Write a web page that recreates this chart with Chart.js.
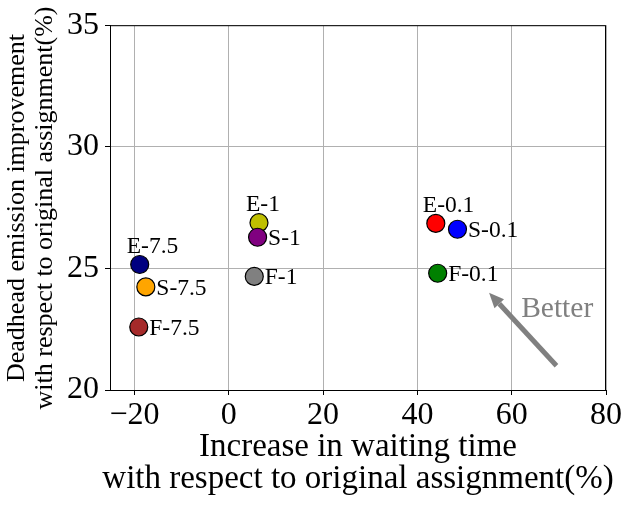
<!DOCTYPE html>
<html lang="en">
<head>
    <meta charset="UTF-8">
    <title>Waiting time vs emission</title>
    <style>
        html, body { margin: 0; padding: 0; background: #fff; }
        #wrap { width: 633px; height: 510px; }
    </style>
</head>
<body>
    <div id="wrap">
        <canvas id="myChart" width="633" height="510"></canvas>
    </div>

    <script src="https://cdn.jsdelivr.net/npm/chart.js"></script>

    <script>
        // Data
        const names = ['E-7.5', 'S-7.5', 'F-7.5', 'E-1', 'S-1', 'F-1', 'E-0.1', 'S-0.1', 'F-0.1'];
        const waitIncrease = [-18.9, -17.6, -19.1, 6.4, 6.1, 5.4, 43.9, 48.5, 44.3];
        const emissionImprove = [25.16, 24.24, 22.59, 26.88, 26.28, 24.67, 26.85, 26.61, 24.80];
        const pointColors = ['#000080', '#ffa500', '#a52a2a', '#bfbf00', '#800080', '#808080', '#ff0000', '#0000ff', '#008000'];
        // where the label sits: E labels above the marker, the others to the right
        const labelSide = ['above', 'right', 'right', 'above', 'right', 'right', 'above', 'right', 'right'];
        const xTicks = [-20, 0, 20, 40, 60, 80];
        const yTicks = [20, 25, 30, 35];
        const xTitle = ['Increase in waiting time', 'with respect to original assignment(%)'];
        const yTitle = ['Deadhead emission improvement', 'with respect to original assignment(%)'];
        // "Better" arrow (from -> to) and its text, in data units
        const arrowFrom = [69.5, 21];
        const arrowTo = [55.2, 24];
        const betterAt = [62, 23];

        const serif = "'Liberation Serif', 'Times New Roman', serif";
        const ctx = document.getElementById('myChart');

        const points = waitIncrease.map((x, i) => ({ x: x, y: emissionImprove[i] }));

        function rotText(c, txt, x, y, rot) {
            c.save();
            c.translate(x, y);
            c.rotate(rot);
            c.fillText(txt, 0, 0);
            c.restore();
        }

        // labels next to the markers plus the arrow
        const annotatePlugin = {
            id: 'annotate',
            afterDatasetsDraw(chart) {
                const c = chart.ctx;
                const xs = chart.scales.x, ys = chart.scales.y;
                const meta = chart.getDatasetMeta(0);
                c.save();
                c.font = '23.5px ' + serif;
                c.fillStyle = '#000';
                c.textBaseline = 'alphabetic';
                c.textAlign = 'left';
                meta.data.forEach((el, i) => {
                    if (labelSide[i] === 'above') {
                        c.fillText(names[i], el.x - 13, el.y - 11.5);
                    } else {
                        c.fillText(names[i], el.x + 10.5, el.y + 8);
                    }
                });

                // arrow
                const x0 = xs.getPixelForValue(arrowFrom[0]), y0 = ys.getPixelForValue(arrowFrom[1]);
                const x1 = xs.getPixelForValue(arrowTo[0]), y1 = ys.getPixelForValue(arrowTo[1]);
                const ang = Math.atan2(y1 - y0, x1 - x0);
                const headLen = 15, headW = 6.5;
                const bx = x1 - headLen * Math.cos(ang), by = y1 - headLen * Math.sin(ang);
                c.strokeStyle = '#808080';
                c.fillStyle = '#808080';
                c.lineWidth = 5;
                c.lineCap = 'butt';
                c.beginPath();
                c.moveTo(x0, y0);
                c.lineTo(bx, by);
                c.stroke();
                c.beginPath();
                c.moveTo(x1, y1);
                c.lineTo(bx + headW * Math.sin(ang), by - headW * Math.cos(ang));
                c.lineTo(bx - headW * Math.sin(ang), by + headW * Math.cos(ang));
                c.closePath();
                c.fill();

                c.font = '29.5px ' + serif;
                c.fillText('Better', xs.getPixelForValue(betterAt[0]), ys.getPixelForValue(betterAt[1]));
                c.restore();
            },
            afterDraw(chart) {
                const a = chart.chartArea;
                const c = chart.ctx;
                c.save();
                // box round the plot like matplotlib spines
                c.strokeStyle = '#000';
                c.lineWidth = 1;
                c.strokeRect(a.left + 0.5, a.top + 0.5, a.right - a.left - 1, a.bottom - a.top);

                // axis titles
                c.fillStyle = '#000';
                c.textAlign = 'center';
                c.textBaseline = 'middle';
                const cx = (a.left + a.right) / 2;
                c.font = '33px ' + serif;
                c.fillText(xTitle[0], cx, 447);
                c.fillText(xTitle[1], cx, 479);
                const cy = 208;
                c.font = '26px ' + serif;
                rotText(c, yTitle[0], 17, cy, -Math.PI / 2);
                rotText(c, yTitle[1], 45, cy, -Math.PI / 2);
                c.restore();
            }
        };

        new Chart(ctx, {
            type: 'scatter',
            data: {
                datasets: [{
                    data: points,
                    pointRadius: 9,
                    pointHoverRadius: 9,
                    pointBackgroundColor: pointColors,
                    pointBorderColor: '#000',
                    pointBorderWidth: 1.2
                }]
            },
            options: {
                responsive: false,
                animation: false,
                events: [],
                layout: { padding: { top: 21, right: 27, left: 0, bottom: 0 } },
                plugins: {
                    legend: { display: false },
                    tooltip: { enabled: false }
                },
                scales: {
                    x: {
                        type: 'linear',
                        min: -25.2,
                        max: 80,
                        afterBuildTicks: (s) => { s.ticks = xTicks.map(v => ({ value: v })); },
                        afterFit: (s) => { s.height = 120; },
                        grid: { color: '#b0b0b0', lineWidth: 1, tickColor: '#000', tickLength: 5 },
                        border: { display: true, color: '#000', width: 1 },
                        ticks: {
                            color: '#000',
                            padding: 1,
                            maxRotation: 0,
                            font: { family: serif, size: 32 },
                            callback: (v) => String(v).replace('-', '\u2212')
                        },
                        title: { display: false }
                    },
                    y: {
                        min: 20,
                        max: 35,
                        afterBuildTicks: (s) => { s.ticks = yTicks.map(v => ({ value: v })); },
                        afterFit: (s) => { s.width = 110; },
                        grid: { color: '#b0b0b0', lineWidth: 1, tickColor: '#000', tickLength: 5 },
                        border: { display: true, color: '#000', width: 1 },
                        ticks: {
                            color: '#000',
                            padding: 6,
                            font: { family: serif, size: 32 }
                        },
                        title: { display: false }
                    }
                }
            },
            plugins: [annotatePlugin]
        });
    </script>
</body>
</html>
